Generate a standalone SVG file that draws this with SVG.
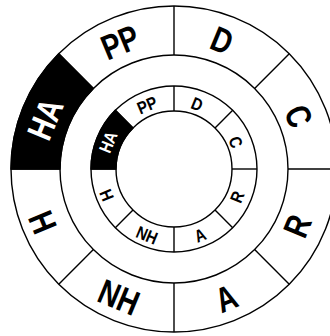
<svg xmlns="http://www.w3.org/2000/svg" width="330" height="336" viewBox="0 0 330 336">
<style>
.ring{fill:none;stroke:#000;stroke-width:1.4}
.div{stroke:#000;stroke-width:1.4}
.blk{fill:#000;stroke:#000;stroke-width:1.4}
.lbl{font-family:"Liberation Sans","DejaVu Sans",sans-serif;font-weight:bold;text-anchor:middle;fill:#000}
.o{font-size:35px}
.i{font-size:17.5px}
.w{fill:#fff}
</style>
<rect x="0" y="0" width="330" height="336" fill="#fff"/>
<g id="outer-ring">
<path class="blk" d="M11,169 A163,163 0 0 1 58.74,53.74 L93.39,88.39 A114,114 0 0 0 60,169 Z"/>
<circle class="ring" cx="174" cy="169" r="163"/>
<circle class="ring" cx="174" cy="169" r="114"/>
</g>
<g id="inner-ring">
<path class="blk" d="M91,169 A83,83 0 0 1 115.31,110.31 L132.99,127.99 A58,58 0 0 0 116,169 Z"/>
<circle class="ring" cx="174" cy="169" r="83"/>
<circle class="ring" cx="174" cy="169" r="58"/>
</g>
<g id="connectors">
<line class="div" x1="288" y1="169" x2="338" y2="169"/>
<line class="div" x1="254.61" y1="249.61" x2="289.26" y2="284.26"/>
<line class="div" x1="174" y1="283" x2="174" y2="332"/>
<line class="div" x1="93.39" y1="249.61" x2="58.74" y2="284.26"/>
<line class="div" x1="60" y1="169" x2="11" y2="169"/>
<line class="div" x1="93.39" y1="88.39" x2="58.74" y2="53.74"/>
<line class="div" x1="174" y1="55" x2="174" y2="6"/>
<line class="div" x1="254.61" y1="88.39" x2="289.26" y2="53.74"/>
<line class="div" x1="232" y1="169" x2="257" y2="169"/>
<line class="div" x1="215.01" y1="210.01" x2="232.69" y2="227.69"/>
<line class="div" x1="174" y1="227" x2="174" y2="252"/>
<line class="div" x1="132.99" y1="210.01" x2="115.31" y2="227.69"/>
<line class="div" x1="116" y1="169" x2="91" y2="169"/>
<line class="div" x1="132.99" y1="127.99" x2="115.31" y2="110.31"/>
<line class="div" x1="174" y1="111" x2="174" y2="86"/>
<line class="div" x1="215.01" y1="127.99" x2="232.69" y2="110.31"/>
</g>
<g id="outer-PP" transform="translate(120,42) rotate(-22.5) scale(0.8,1)"><text class="lbl o" x="0" y="12.5">PP</text></g>
<g id="outer-D" transform="translate(222,40) rotate(22.5) scale(0.8,1)"><text class="lbl o" x="0" y="12.5">D</text></g>
<g id="outer-C" transform="translate(299,116) rotate(67.5) scale(0.8,1)"><text class="lbl o" x="0" y="12.5">C</text></g>
<g id="outer-R" transform="translate(297,226) rotate(-67.5) scale(0.8,1)"><text class="lbl o" x="0" y="12.5">R</text></g>
<g id="outer-A" transform="translate(226,298) rotate(-22.5) scale(0.8,1)"><text class="lbl o" x="0" y="12.5">A</text></g>
<g id="outer-NH" transform="translate(119,297) rotate(22.5) scale(0.8,1)"><text class="lbl o" x="0" y="12.5">NH</text></g>
<g id="outer-H" transform="translate(43,222) rotate(67.5) scale(0.8,1)"><text class="lbl o" x="0" y="12.5">H</text></g>
<g id="outer-HA" transform="translate(45,119) rotate(-67.5) scale(0.8,1)"><text class="lbl o w" x="0" y="12.5">HA</text></g>
<g id="inner-PP" transform="translate(147,105) rotate(-22.5) scale(0.85,1)"><text class="lbl i" x="0" y="6.3">PP</text></g>
<g id="inner-D" transform="translate(197,104) rotate(22.5) scale(0.85,1)"><text class="lbl i" x="0" y="6.3">D</text></g>
<g id="inner-C" transform="translate(236,142) rotate(67.5) scale(0.85,1)"><text class="lbl i" x="0" y="6.3">C</text></g>
<g id="inner-R" transform="translate(237,197) rotate(-67.5) scale(0.85,1)"><text class="lbl i" x="0" y="6.3">R</text></g>
<g id="inner-A" transform="translate(200,235) rotate(-22.5) scale(0.85,1)"><text class="lbl i" x="0" y="6.3">A</text></g>
<g id="inner-NH" transform="translate(147,235) rotate(22.5) scale(0.85,1)"><text class="lbl i" x="0" y="6.3">NH</text></g>
<g id="inner-H" transform="translate(107,195) rotate(67.5) scale(0.85,1)"><text class="lbl i" x="0" y="6.3">H</text></g>
<g id="inner-HA" transform="translate(108,142) rotate(-67.5) scale(0.85,1)"><text class="lbl i w" x="0" y="6.3">HA</text></g>
</svg>
